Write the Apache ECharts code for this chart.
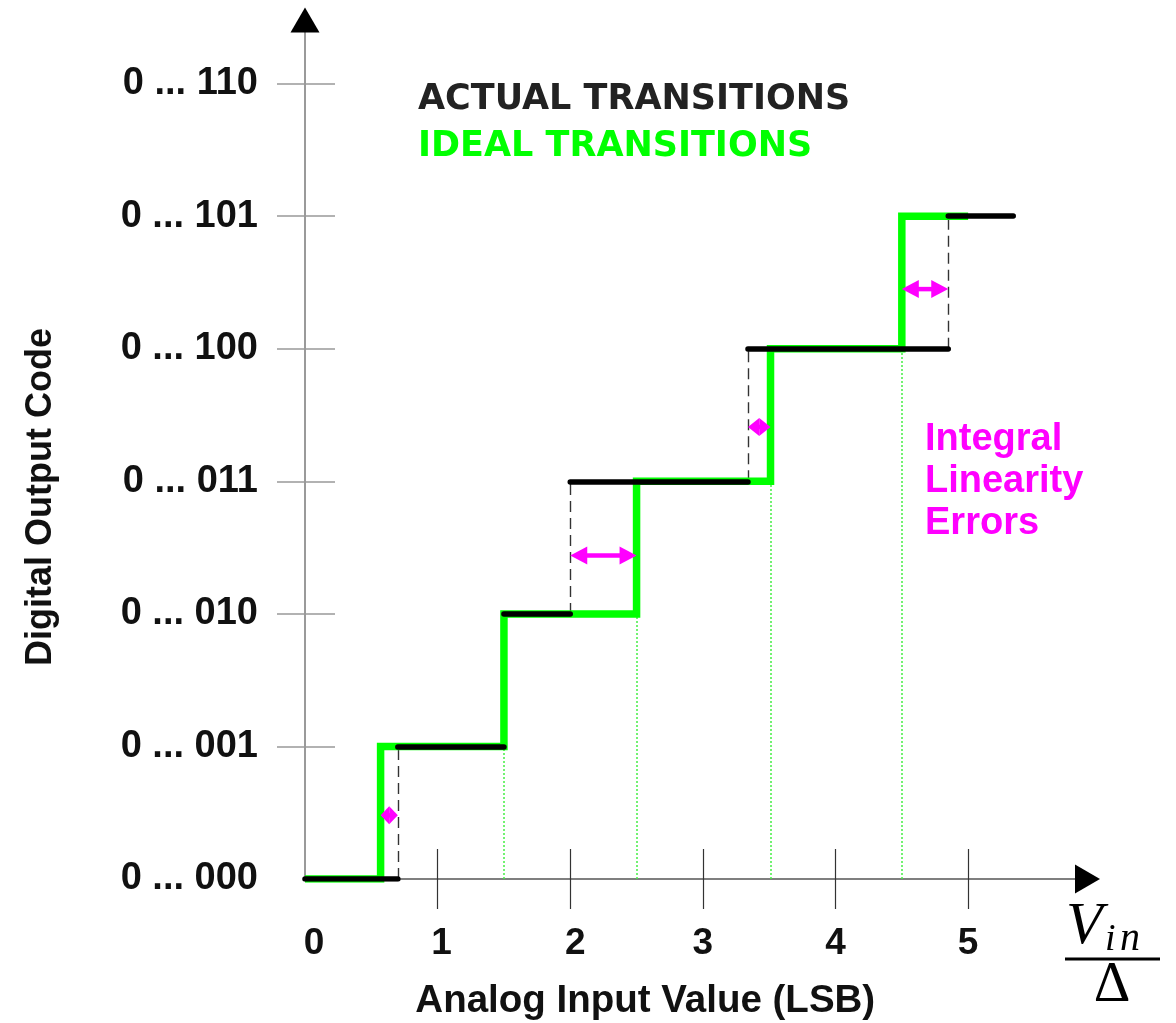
<!DOCTYPE html>
<html>
<head>
<meta charset="utf-8">
<script src="https://cdn.jsdelivr.net/npm/echarts@6/dist/echarts.min.js"></script>
<style>
  html, body { margin: 0; padding: 0; background: #fff; }
  #chart { width: 1176px; height: 1023px; }
</style>
</head>
<body>
<div id="chart"></div>
<script>
// Output code shown for each quantisation level (0 … 6)
const codeLabels = ['0 ... 000', '0 ... 001', '0 ... 010', '0 ... 011', '0 ... 100', '0 ... 101', '0 ... 110'];
// Input axis tick values (LSB)
const inputTicks = [0, 1, 2, 3, 4, 5];
// Ideal transition points (LSB): entry k is the step from code k to code k+1
const idealTransitions = [0.57, 1.5, 2.5, 3.51, 4.5];
const idealEnd = 5.0;
// Measured transition points of the converter
const actualTransitions = [0.70, 1.5, 2.0, 3.34, 4.85];
const actualEnd = 5.34;
// Integral linearity error markers: [from edge, to edge, height on the code axis]
const inlMarkers = [
  [0.57, 0.70, 0.48],
  [2.0, 2.5, 2.44],
  [3.34, 3.51, 3.41],
  [4.5, 4.85, 4.45]
];

const X_MAX = 5.9;
const Y_MAX = 6.48;
const FONT = '"Liberation Sans", Arial, sans-serif';
const GREEN = '#00ff00';
const MAGENTA = '#ff00ff';

// ideal staircase, drawn with step: 'end'
const idealStep = [[0, 0]]
  .concat(idealTransitions.map((x, i) => [x, i + 1]))
  .concat([[idealEnd, idealTransitions.length]]);

// horizontal code segments of the measured characteristic
const actualSegments = [];
for (let k = 0; k <= actualTransitions.length; k++) {
  const start = k === 0 ? 0 : actualTransitions[k - 1];
  const end = k < actualTransitions.length ? actualTransitions[k] : actualEnd;
  actualSegments.push({ coords: [[start, k], [end, k]] });
}
// dashed risers of the measured characteristic
const actualRisers = actualTransitions.map((x, k) => ({ coords: [[x, k], [x, k + 1]] }));
// dotted guides from the input axis to the ideal steps
const idealGuides = idealTransitions.slice(1).map((x, i) => ({ coords: [[x, 0], [x, i + 1]] }));

// small horizontal nudges of the input tick labels
const tickLabelShift = { 0: 18, 1: 8, 2: 10 };

const gridBox = { left: 305, right: 88.5, top: 20, bottom: 144, outerBoundsMode: 'none' };

const tickRich = {};
[0, 8, 10, 18].forEach(p => {
  tickRich['t' + p] = { fontSize: 37, fontWeight: 'bold', fontFamily: FONT, color: '#111', padding: [0, 0, 0, p] };
});

const chart = echarts.init(document.getElementById('chart'));
chart.setOption({
  animation: false,
  backgroundColor: '#fff',
  grid: [Object.assign({}, gridBox), Object.assign({}, gridBox)],
  legend: {
    orient: 'vertical',
    left: 408,
    top: 77,
    icon: 'none',
    itemWidth: 0,
    itemGap: 12,
    selectedMode: false,
    textStyle: { fontFamily: '"DejaVu Sans", sans-serif', fontWeight: 'bold', fontSize: 35 },
    data: [
      { name: 'ACTUAL TRANSITIONS', textStyle: { color: '#222' } },
      { name: 'IDEAL TRANSITIONS', textStyle: { color: GREEN } }
    ]
  },
  xAxis: [
    {
      type: 'value', gridIndex: 0, min: 0, max: X_MAX,
      axisLine: { show: true, lineStyle: { color: '#555', width: 1.5 } },
      axisTick: { show: true, inside: false, length: 30, customValues: inputTicks.slice(1), lineStyle: { color: '#333', width: 1.2 } },
      axisLabel: {
        show: true, margin: 46, customValues: inputTicks,
        formatter: v => '{t' + (tickLabelShift[v] || 0) + '|' + v + '}',
        rich: tickRich
      },
      splitLine: { show: false },
      name: 'Analog Input Value (LSB)',
      nameLocation: 'middle',
      nameGap: 103,
      nameTextStyle: { fontSize: 38.5, fontWeight: 'bold', fontFamily: FONT, color: '#111', padding: [0, 102, 0, 0] }
    },
    {
      type: 'value', gridIndex: 1, min: 0, max: X_MAX,
      axisLine: { show: true, symbol: ['none', 'triangle'], symbolSize: [29, 25], lineStyle: { color: '#000', width: 0 } },
      axisTick: { show: true, inside: true, length: 30, customValues: inputTicks.slice(1), lineStyle: { color: '#333', width: 1.2 } },
      axisLabel: { show: false },
      splitLine: { show: false }
    }
  ],
  yAxis: [
    {
      type: 'value', gridIndex: 0, min: 0, max: Y_MAX,
      axisLine: { show: true, lineStyle: { color: '#9a9a9a', width: 2 } },
      axisTick: { show: true, inside: false, length: 28, customValues: [1, 2, 3, 4, 5, 6], lineStyle: { color: '#999', width: 1.5 } },
      axisLabel: {
        show: true, margin: 47, customValues: [0, 1, 2, 3, 4, 5, 6],
        formatter: v => codeLabels[Math.round(v)],
        fontSize: 38, fontWeight: 'bold', fontFamily: FONT, color: '#111'
      },
      splitLine: { show: false },
      name: 'Digital Output Code',
      nameLocation: 'middle',
      nameGap: 246,
      nameTextStyle: { fontSize: 36, fontWeight: 'bold', fontFamily: FONT, color: '#111', padding: [0, 95, 0, 0] }
    },
    {
      type: 'value', gridIndex: 1, min: 0, max: Y_MAX,
      axisLine: { show: true, symbol: ['none', 'triangle'], symbolSize: [29, 25], lineStyle: { color: '#000', width: 0 } },
      axisTick: { show: true, inside: true, length: 30, customValues: [1, 2, 3, 4, 5, 6], lineStyle: { color: '#999', width: 1.5 } },
      axisLabel: { show: false },
      splitLine: { show: false }
    }
  ],
  series: [
    {
      name: 'ideal guides', type: 'lines', coordinateSystem: 'cartesian2d',
      xAxisIndex: 0, yAxisIndex: 0, silent: true, z: 1,
      lineStyle: { color: '#44ee44', width: 1.5, type: [2, 2], opacity: 1 },
      data: idealGuides
    },
    {
      name: 'actual risers', type: 'lines', coordinateSystem: 'cartesian2d',
      xAxisIndex: 0, yAxisIndex: 0, silent: true, z: 1,
      lineStyle: { color: '#333', width: 1.4, type: [11, 6], opacity: 1 },
      data: actualRisers
    },
    {
      name: 'IDEAL TRANSITIONS', type: 'line', step: 'end',
      xAxisIndex: 0, yAxisIndex: 0, silent: true, z: 2,
      symbol: 'none',
      itemStyle: { color: GREEN },
      lineStyle: { color: GREEN, width: 7.5, join: 'miter' },
      data: idealStep
    },
    {
      name: 'ACTUAL TRANSITIONS', type: 'lines', coordinateSystem: 'cartesian2d',
      xAxisIndex: 0, yAxisIndex: 0, silent: true, z: 3,
      itemStyle: { color: '#000' },
      lineStyle: { color: '#000', width: 5.5, cap: 'round', opacity: 1 },
      data: actualSegments
    },
    {
      name: 'INL', type: 'custom', coordinateSystem: 'cartesian2d',
      xAxisIndex: 0, yAxisIndex: 0, silent: true, z: 4,
      encode: { x: [0, 1], y: 2 },
      data: inlMarkers,
      renderItem: function (params, api) {
        const a = api.coord([api.value(0), api.value(2)]);
        const b = api.coord([api.value(1), api.value(2)]);
        const x0 = Math.min(a[0], b[0]);
        const x1 = Math.max(a[0], b[0]);
        const y = a[1];
        const head = Math.min(17, (x1 - x0) / 2);
        const hw = 9;
        return {
          type: 'group',
          children: [
            { type: 'line', shape: { x1: x0 + head * 0.5, y1: y, x2: x1 - head * 0.5, y2: y }, style: { stroke: MAGENTA, lineWidth: 4.5 } },
            { type: 'polygon', shape: { points: [[x0, y], [x0 + head, y - hw], [x0 + head, y + hw]] }, style: { fill: MAGENTA } },
            { type: 'polygon', shape: { points: [[x1, y], [x1 - head, y - hw], [x1 - head, y + hw]] }, style: { fill: MAGENTA } }
          ]
        };
      }
    }
  ],
  graphic: [
    {
      type: 'text', x: 925, y: 419, silent: true,
      style: { text: 'Integral\nLinearity\nErrors', font: 'bold 38px ' + FONT, fill: MAGENTA, lineHeight: 42 }
    },
    {
      type: 'group', silent: true,
      children: [
        { type: 'text', x: 1066, y: 927, style: { text: 'V', font: 'italic 60px "Liberation Serif", serif', fill: '#000', verticalAlign: 'middle' } },
        { type: 'text', x: 1105, y: 940, style: { text: 'i', font: 'italic 38px "Liberation Serif", serif', fill: '#000', verticalAlign: 'middle' } },
        { type: 'text', x: 1120, y: 939, style: { text: 'n', font: 'italic 40px "Liberation Serif", serif', fill: '#000', verticalAlign: 'middle' } },
        { type: 'line', shape: { x1: 1065, y1: 959, x2: 1160, y2: 959 }, style: { stroke: '#000', lineWidth: 3 } },
        { type: 'text', x: 1112, y: 986, style: { text: 'Δ', font: '57px "Liberation Serif", serif', fill: '#000', align: 'center', verticalAlign: 'middle' } }
      ]
    }
  ]
});
</script>
</body>
</html>
